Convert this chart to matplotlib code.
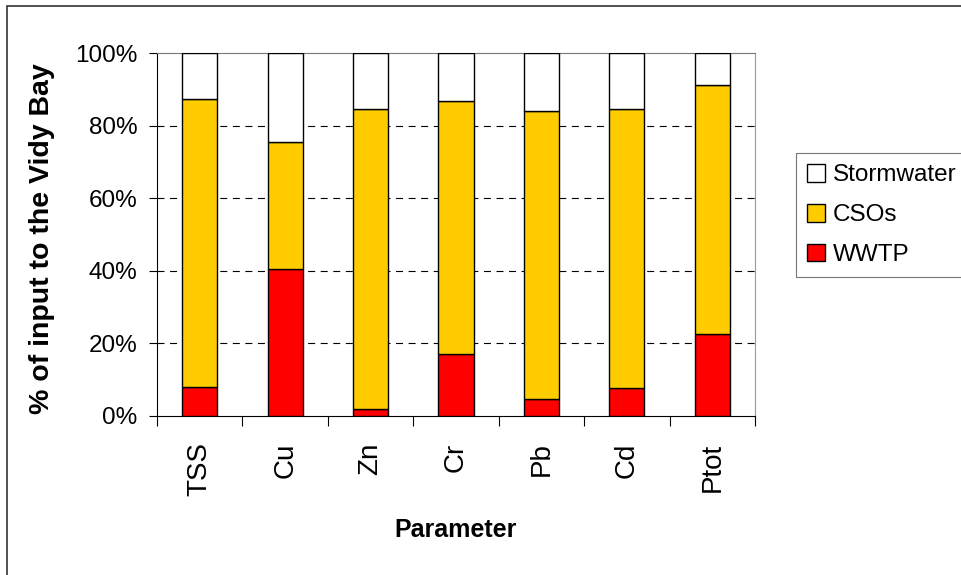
import matplotlib

matplotlib.use("Agg")
import matplotlib.pyplot as plt
from matplotlib.patches import Rectangle
import numpy as np

parameters = ["TSS", "Cu", "Zn", "Cr", "Pb", "Cd", "Ptot"]
wwtp = [8.1, 40.5, 2.0, 17.0, 4.7, 7.8, 22.6]
csos = [79.1, 34.9, 82.6, 69.8, 79.4, 76.8, 68.6]
stormwater = [100 - w - c for w, c in zip(wwtp, csos)]

plt.rcParams["font.family"] = ["Liberation Sans", "DejaVu Sans"]

fig = plt.figure(figsize=(9.62, 5.75), dpi=100)
ax = fig.add_axes([157 / 962, 1 - 416 / 575, 598 / 962, 363 / 575])

x = np.arange(len(parameters))
w = 0.41
edge = dict(edgecolor="black", linewidth=1.0, zorder=3)
ax.bar(x, wwtp, w, color="#ff0000", label="WWTP", **edge)
ax.bar(x, csos, w, bottom=wwtp, color="#ffcc00", label="CSOs", **edge)
ax.bar(x, stormwater, w, bottom=np.add(wwtp, csos), color="white",
       label="Stormwater", **edge)

ax.set_xlim(-0.5, len(parameters) - 0.5)
ax.set_ylim(0, 100)
ax.set_yticks(range(0, 101, 20))
ax.set_yticklabels([f"{v}%" for v in range(0, 101, 20)], fontsize=17.5)
ax.set_xticks(x)
ax.set_xticklabels(parameters, rotation=90, fontsize=20, va="top")
ax.set_xticks(np.arange(-0.5, len(parameters)), minor=True)
ax.tick_params(axis="x", which="major", length=0, pad=19)
ax.tick_params(axis="x", which="minor", length=7, width=0.8, direction="out")
ax.tick_params(axis="y", length=6, width=0.8, direction="out", pad=8)

for v in range(20, 100, 20):
    ax.axhline(v, color="black", lw=0.8, ls=(0, (6.3, 5)), zorder=1)

for s in ax.spines.values():
    s.set_linewidth(0.8)
    s.set_color("black")
ax.spines["top"].set_color("#777777")
ax.spines["right"].set_color("#999999")

ax.set_ylabel("% of input to the Vidy Bay", fontsize=20.5, fontweight="bold")
ax.yaxis.set_label_coords(-102 / 598, 0.49)
ax.set_xlabel("Parameter", fontsize=18, fontweight="bold")
ax.xaxis.set_label_coords(0.5, -102 / 363)

handles, labels = ax.get_legend_handles_labels()
leg = fig.legend(handles[::-1], labels[::-1], loc="upper left",
                 bbox_to_anchor=(796 / 962, 1 - 153 / 575), fontsize=17.5,
                 frameon=True, fancybox=False, edgecolor="#555555",
                 handlelength=0.75, handleheight=0.75, handletextpad=0.3,
                 labelspacing=0.72, borderpad=0.45, borderaxespad=0)
leg.get_frame().set_linewidth(0.8)

# chart area border
fig.patches.append(Rectangle((7 / 962, -0.1), 2, 1 - 6 / 575 + 0.1,
                             transform=fig.transFigure, fill=False,
                             edgecolor="#333333", linewidth=1.2))

fig.savefig("out.png", dpi=100)
